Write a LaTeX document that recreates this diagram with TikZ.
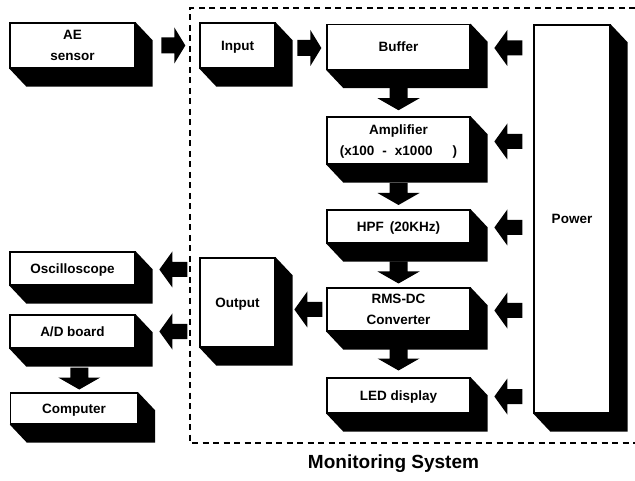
\documentclass[tikz,border=0pt]{standalone}
\usepackage{fontspec}
\setmainfont{Liberation Sans}
\usetikzlibrary{calc,backgrounds}

\tikzset{
  blk/.style={draw=black, fill=white, line width=1.3pt, inner sep=2pt,
    text depth=0pt, align=center, font=\bfseries\fontsize{13.5}{21}\selectfont},
  frame/.style={draw=black, line width=1.3pt, dash pattern=on 6pt off 4.5pt},
  % solid block arrows, centred on the pic origin
  rarr/.pic={\fill (-12,-8) -- (1,-8) -- (1,-18) -- (12,0) -- (1,18) -- (1,8) -- (-12,8) -- cycle;},
  larr/.pic={\fill (14,-7.5) -- (-1,-7.5) -- (-1,-18) -- (-14,0) -- (-1,18) -- (-1,7.5) -- (14,7.5) -- cycle;},
  darr/.pic={\fill (-9,-11) -- (9,-11) -- (9,-1) -- (21,-1) -- (0,11) -- (-21,-1) -- (-9,-1) -- cycle;},
}

\begin{document}
\begin{tikzpicture}[x=1pt, y=-1pt]
  \useasboundingbox (0,0) rectangle (635,481);

  % monitoring system frame (open on the right)
  \draw[frame] (635,8) -- (190,8) -- (190,443) -- (635,443);

  % blocks
  \node[blk, minimum width=125pt, minimum height=45pt] (ae)  at (72.5,45.5)  {AE\\sensor};
  \node[blk, minimum width=75pt,  minimum height=45pt] (inp) at (237.5,45.5) {Input};
  \node[blk, minimum width=143pt, minimum height=45pt] (buf) at (398.5,47)   {Buffer};
  \node[blk, minimum width=143pt, minimum height=47pt] (amp) at (398.5,140.5)
    {Amplifier\\(x100\hspace{8pt}-\hspace{8pt}x1000\hspace{20pt})};
  \node[blk, minimum width=143pt, minimum height=33pt] (hpf) at (398.5,226.5) {HPF\hspace{6pt}(20KHz)};
  \node[blk, minimum width=143pt, minimum height=43pt] (rms) at (398.5,309.5) {RMS-DC\\Converter};
  \node[blk, minimum width=143pt, minimum height=35pt] (led) at (398.5,395.5) {LED display};
  \node[blk, minimum width=76pt,  minimum height=388pt] (pwr) at (572,219)   {Power};
  \node[blk, minimum width=125pt, minimum height=33pt] (osc) at (72.5,268.5) {Oscilloscope};
  \node[blk, minimum width=125pt, minimum height=33pt] (adb) at (72.5,331.5) {A/D board};
  \node[blk, minimum width=127pt, minimum height=31pt] (cmp) at (74,408.5)   {Computer};
  \node[blk, minimum width=75pt,  minimum height=89pt] (out) at (237.5,302.5) {Output};

  % extruded depth behind every block
  \begin{scope}[on background layer]
    \foreach \n in {ae,inp,buf,amp,hpf,rms,led,pwr,osc,adb,cmp,out}
      \fill[black] (\n.north east) -- ($(\n.north east)+(17,18)$)
        -- ($(\n.south east)+(17,18)$) -- ($(\n.south west)+(17,18)$)
        -- (\n.south west) -- cycle;
  \end{scope}

  % signal flow
  \pic at ($(inp.west)+(-26,0)$) {rarr};
  \pic at ($(buf.west)+(-17,1)$) {rarr};
  \pic at ($(buf.south)!0.5!(amp.north)+(0,6)$) {darr};
  \pic at ($(amp.south)!0.5!(hpf.north)+(0,7)$) {darr};
  \pic at ($(hpf.south)!0.5!(rms.north)+(0,7)$) {darr};
  \pic at ($(rms.south)!0.5!(led.north)+(0,5)$) {darr};
  \pic at ($(adb.south)!0.5!(cmp.north)+(6,8)$) {darr};
  \pic at ($(rms.west)+(-18,0)$) {larr};
  \pic at ($(osc.east -| out.west)+(-26,1)$) {larr};
  \pic at ($(adb.east -| out.west)+(-26,0)$) {larr};

  % power supply feeds
  \foreach \n in {buf,amp,hpf,rms,led}
    \pic at ($(\n.east -| pwr.west)+(-25,1)$) {larr};

  \node[font=\bfseries\fontsize{19}{23}\selectfont, anchor=base] (title) at (393.5,468) {Monitoring System};
\end{tikzpicture}
\end{document}
